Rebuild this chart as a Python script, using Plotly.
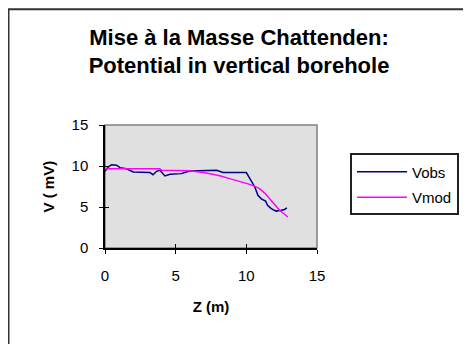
import plotly.graph_objects as go

z_obs = [0, 0.24, 0.47, 0.82, 1.06, 1.53, 2.0, 3.18, 3.4, 3.65, 3.88, 4.24, 4.6, 5.4, 5.76, 6.0, 7.9, 8.35, 10.0, 10.19, 10.35, 10.6, 10.82, 11.06, 11.36, 11.5, 11.76, 12.1, 12.47, 12.7, 12.87]
v_obs = [9.35, 9.9, 10.16, 10.1, 9.8, 9.67, 9.27, 9.2, 8.94, 9.35, 9.47, 8.78, 8.98, 9.07, 9.27, 9.4, 9.47, 9.2, 9.2, 8.66, 8.05, 7.44, 6.42, 6.0, 5.73, 5.2, 4.8, 4.5, 4.6, 4.7, 4.9]
z_mod = [0, 3.88, 4.0, 6.0, 7.18, 8.12, 8.82, 9.53, 10.24, 10.6, 10.94, 11.3, 11.65, 12.0, 12.35, 12.94]
v_mod = [9.67, 9.67, 9.47, 9.43, 9.15, 8.82, 8.46, 8.13, 7.76, 7.52, 7.24, 6.7, 6.0, 5.2, 4.6, 3.78]
x_ticks = [0, 5, 10, 15]
y_ticks = [0, 5, 10, 15]

FONT = "Liberation Sans, Arial, sans-serif"

fig = go.Figure()
fig.add_trace(go.Scatter(x=z_obs, y=v_obs, mode="lines", name="Vobs",
                         line=dict(color="#000080", width=1.5), legendgroup="a"))
fig.add_trace(go.Scatter(x=z_mod, y=v_mod, mode="lines", name="Vmod",
                         line=dict(color="#FF00FF", width=1.5), legendgroup="b"))

# page has an 8px body margin: figure coords = screen coords - 8
W, H = 463, 336
L, R, T, B = 97, 309, 116.5, 239.7
pw, ph = R - L, B - T

def px(xp):
    return (xp - L) / pw

def py(yp):
    return (B - yp) / ph

fig.update_layout(
    width=W, height=H,
    margin=dict(l=L, r=W - R, t=T, b=H - B, autoexpand=False),
    paper_bgcolor="white",
    plot_bgcolor="#E0E0E0",
    font=dict(family=FONT, color="black"),
    title=dict(text="<b>Mise à la Masse Chattenden:<br>Potential in vertical borehole</b>",
               x=px(231), xanchor="center", y=1 - 36.5 / H, yanchor="middle",
               xref="paper", yref="container", font=dict(size=22, family=FONT)),
    showlegend=True,
    legend=dict(x=px(342), y=py(145), xanchor="left", yanchor="top",
                bordercolor="#222222", borderwidth=2, bgcolor="white",
                font=dict(size=15, family=FONT), tracegroupgap=3, itemwidth=50),
    xaxis=dict(range=[0, 15], tickvals=x_ticks, ticks="outside", ticklen=4,
               tickcolor="black", showline=True, linecolor="black", linewidth=1.5,
               showgrid=False, zeroline=False, tickfont=dict(size=15, family=FONT),
               tickprefix="<b>", ticksuffix="</b>", ticklabelstandoff=9,
               title=dict(text="<b>Z (m)</b>", font=dict(size=15), standoff=19)),
    yaxis=dict(range=[0, 15], tickvals=y_ticks, ticks="outside", ticklen=4,
               tickcolor="black", showline=True, linecolor="black", linewidth=1.5,
               showgrid=False, zeroline=False, tickfont=dict(size=15, family=FONT),
               tickprefix="<b>", ticksuffix="</b>", ticklabelstandoff=8),
    xaxis2=dict(range=[0, 15], tickvals=x_ticks, ticks="inside", ticklen=4,
                tickcolor="black", overlaying="x", showticklabels=False,
                showgrid=False, zeroline=False, showline=False),
    yaxis2=dict(range=[0, 15], tickvals=y_ticks, ticks="inside", ticklen=4,
                tickcolor="black", overlaying="y", showticklabels=False,
                showgrid=False, zeroline=False, showline=False),
    annotations=[
        dict(text="<b>V ( mV)</b>", xref="paper", yref="paper", x=px(40), y=0.5,
             xanchor="center", yanchor="middle", textangle=-90, showarrow=False,
             font=dict(size=15, family=FONT)),
    ],
    shapes=[
        dict(type="rect", xref="paper", yref="paper", x0=0, x1=1, y0=0, y1=1,
             line=dict(color="#808080", width=1.5), layer="below"),
        dict(type="rect", xref="paper", yref="paper", x0=px(0.5), x1=px(500),
             y0=py(400), y1=py(0.5), line=dict(color="#333333", width=2)),
    ],
)
# invisible trace to activate overlay axes (cross tick marks)
fig.add_trace(go.Scatter(x=[0], y=[0], xaxis="x2", yaxis="y2", mode="markers",
                         marker=dict(opacity=0), showlegend=False, hoverinfo="skip"))

fig.write_html("out.html")
